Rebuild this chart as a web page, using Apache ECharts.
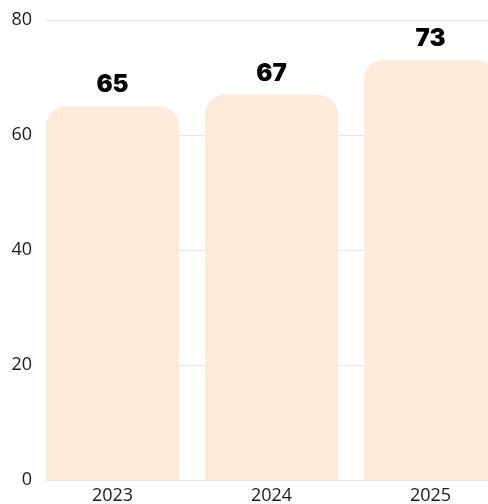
<!DOCTYPE html>
<html><head><meta charset="utf-8">
<script src="https://cdn.jsdelivr.net/npm/echarts@6/dist/echarts.min.js"></script>
<style>html,body{margin:0;padding:0;background:#fff}#c{width:488px;height:504px}</style>
</head><body><div id="c"></div>
<script>
var categories = ['2023', '2024', '2025'];
var values = [65, 67, 73];
var yTicks = [0, 20, 40, 60, 80];

var chart = echarts.init(document.getElementById('c'));
var font = '"Open Sans", sans-serif';
chart.setOption({
  animation: false,
  grid: [
    {left: 46, width: 477, top: 20, bottom: 24, outerBoundsMode: 'none', containLabel: false},
    {left: 33, width: 477, top: 20, bottom: 24, outerBoundsMode: 'none', containLabel: false}
  ],
  xAxis: [
    {gridIndex: 0, type: 'category', data: categories, show: false},
    {gridIndex: 1, type: 'category', data: categories,
     axisLine: {show: false}, axisTick: {show: false},
     axisLabel: {color: '#1a1a1a', fontFamily: font, fontSize: 18, margin: 7}}
  ],
  yAxis: [
    {gridIndex: 0, type: 'value', min: yTicks[0], max: yTicks[yTicks.length-1], interval: 20,
     axisLine: {show: false}, axisTick: {show: false},
     axisLabel: {color: '#1a1a1a', fontFamily: font, fontSize: 18, margin: 14},
     splitLine: {lineStyle: {color: '#e6e6e6', width: 1}}},
    {gridIndex: 1, type: 'value', min: 0, max: 80, interval: 20, show: false, splitLine: {show: false}}
  ],
  series: [{
    type: 'bar', xAxisIndex: 1, yAxisIndex: 1,
    data: values, barWidth: 133,
    itemStyle: {color: '#FEEBDA', borderRadius: [20, 20, 0, 0]},
    label: {show: true, position: 'top', distance: 9, color: '#000',
            fontFamily: 'Inter, sans-serif', fontWeight: 900, fontSize: 24}
  }]
});
</script></body></html>
